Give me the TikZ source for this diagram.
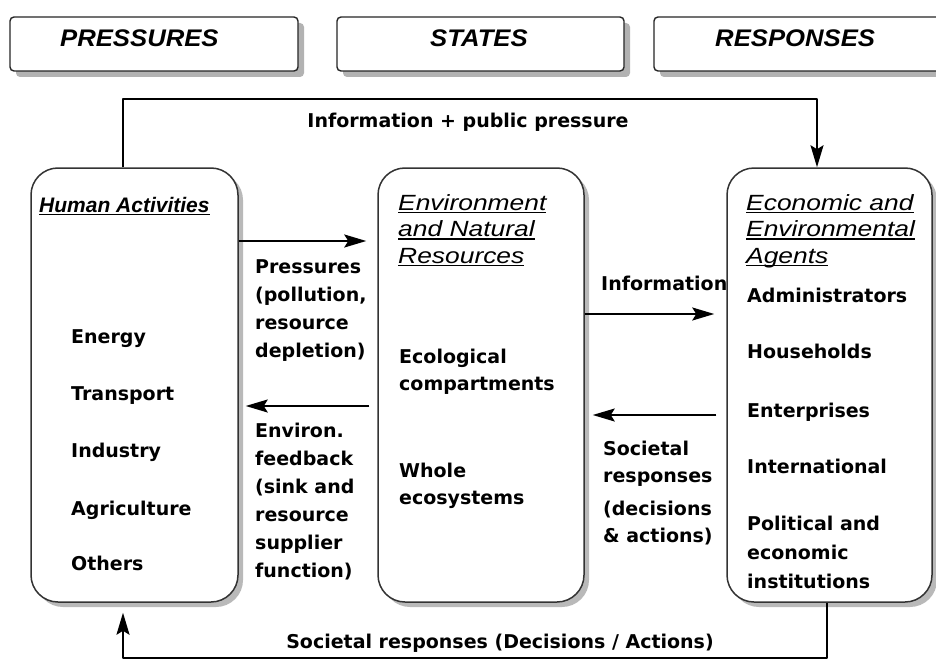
\documentclass[tikz,border=0pt]{standalone}
\usepackage{fontspec}
\setmainfont{DejaVu Sans}
\newfontfamily\hdrfont[FakeStretch=1.07]{Liberation Sans}
\newfontfamily\headfont[FakeStretch=1.2]{Liberation Sans}
\newfontfamily\humfont{Liberation Sans}
\usetikzlibrary{arrows.meta,shadows}
\newcommand\hul[1]{\setbox0\hbox{#1}\rlap{\rule[-3pt]{\wd0}{1.5pt}}\box0}
\newcommand\stack[2][28pt]{\vtop{\baselineskip=#1\lineskiplimit=-100pt\halign{##\hfil\cr#2\crcr}}}
\begin{document}
\begin{tikzpicture}[x=1pt,y=-1pt,line join=round,
  hdrbox/.style={draw=black!85, line width=1.4pt, fill=white, rounded corners=4pt,
    drop shadow={shadow xshift=6pt, shadow yshift=-6pt, fill=gray!60, opacity=1}, inner sep=0pt},
  mainbox/.style={draw=black!80, line width=1.5pt, fill=white, rounded corners=27pt,
    drop shadow={shadow xshift=5pt, shadow yshift=-5pt, fill=gray!55, opacity=1}, inner sep=0pt},
  txt/.style={anchor=base west, inner sep=0pt, font=\fontsize{19}{28}\selectfont\bfseries},
  hdrtxt/.style={anchor=base west, inner sep=0pt, font=\hdrfont\fontsize{24}{28}\selectfont\bfseries\itshape},
  headtxt/.style={anchor=base west, inner sep=0pt, font=\headfont\fontsize{22}{26.5}\selectfont\itshape},
  arr/.style={line width=2pt, -{Stealth[length=22pt,width=13pt,inset=4pt]}}]
\fill[white] (0,0) rectangle (936,658);
\useasboundingbox (0,0) rectangle (936,658);

% header boxes
\node[hdrbox, minimum width=288pt, minimum height=54pt] (hp) at (154,44) {};
\node[hdrbox, minimum width=287pt, minimum height=54pt] (hs) at (480.5,44) {};
\node[hdrbox, minimum width=291pt, minimum height=54pt] (hr) at (799.5,44) {};
\node[hdrtxt] (tp) at (60,47) {PRESSURES};
\node[hdrtxt] (ts) at (430,47) {STATES};
\node[hdrtxt] (tr) at (715,47) {RESPONSES};

% main boxes
\node[mainbox, minimum width=207pt, minimum height=434pt] (hum) at (134.5,385) {};
\node[mainbox, minimum width=206pt, minimum height=434pt] (env) at (481,385) {};
\node[mainbox, minimum width=205pt, minimum height=434pt] (agt) at (829.5,385) {};

% left box text
\node[anchor=base west, inner sep=0pt, font=\humfont\fontsize{21}{26}\selectfont\bfseries\itshape] (humh) at (39,212) {\hul{Human Activities}};
\node[txt] (e1) at (71,343) {Energy};
\node[txt] (e2) at (71,400) {Transport};
\node[txt] (e3) at (71,457) {Industry};
\node[txt] (e4) at (71,515) {Agriculture};
\node[txt] (e5) at (71,570) {Others};

% middle box text
\node[headtxt] (envh) at (398,210) {\stack[26.5pt]{\hul{Environment}\cr\hul{and Natural}\cr\hul{Resources}}};
\node[txt] (m1) at (399,363) {\stack[27pt]{Ecological\cr compartments}};
\node[txt] (m2) at (399,477) {\stack[27pt]{Whole\cr ecosystems}};

% right box text
\node[headtxt] (agth) at (746,210) {\stack[26.5pt]{\hul{Economic and}\cr\hul{Environmental}\cr\hul{Agents}}};
\node[txt] (r1) at (747,302) {Administrators};
\node[txt] (r2) at (747,358) {Households};
\node[txt] (r3) at (747,417) {Enterprises};
\node[txt] (r4) at (747,473) {International};
\node[txt] (r5) at (747,530) {\stack[29pt]{Political and\cr economic\cr institutions}};

% arrow labels
\node[txt] (lp) at (255,273) {\stack{Pressures\cr (pollution,\cr resource\cr depletion)}};
\node[txt] (lf) at (255,437) {\stack{Environ.\cr feedback\cr (sink and\cr resource\cr supplier\cr function)}};
\node[txt] (li) at (601,290) {Information};
\node[txt] (ls) at (603,455) {\stack[27pt]{Societal\cr responses}};
\node[txt] (ld) at (603,515) {\stack[27pt]{(decisions\cr \& actions)}};
\node[txt, anchor=base] (ltop) at (468,128) {Information + public pressure};
\node[txt, anchor=base] (lbot) at (500,648) {Societal responses (Decisions / Actions)};

% connectors
\draw[arr, shorten >=11pt] (hum.east |- 0,241) -- (env.west |- 0,241);
\draw[arr, shorten <=8pt, shorten >=7pt] (env.west |- 0,406) -- (hum.east |- 0,406);
\draw[arr, shorten >=12pt] (env.east |- 0,314) -- (agt.west |- 0,314);
\draw[arr, shorten <=10pt, shorten >=8pt] (agt.west |- 0,415) -- (env.east |- 0,415);
\draw[arr] (hum.north -| 123,0) -- (123,99) -| (agt.north -| 817,0);
\draw[arr, shorten >=10pt] (agt.south -| 827,0) -- (827,658) -| (hum.south -| 123,0);
\end{tikzpicture}
\end{document}
